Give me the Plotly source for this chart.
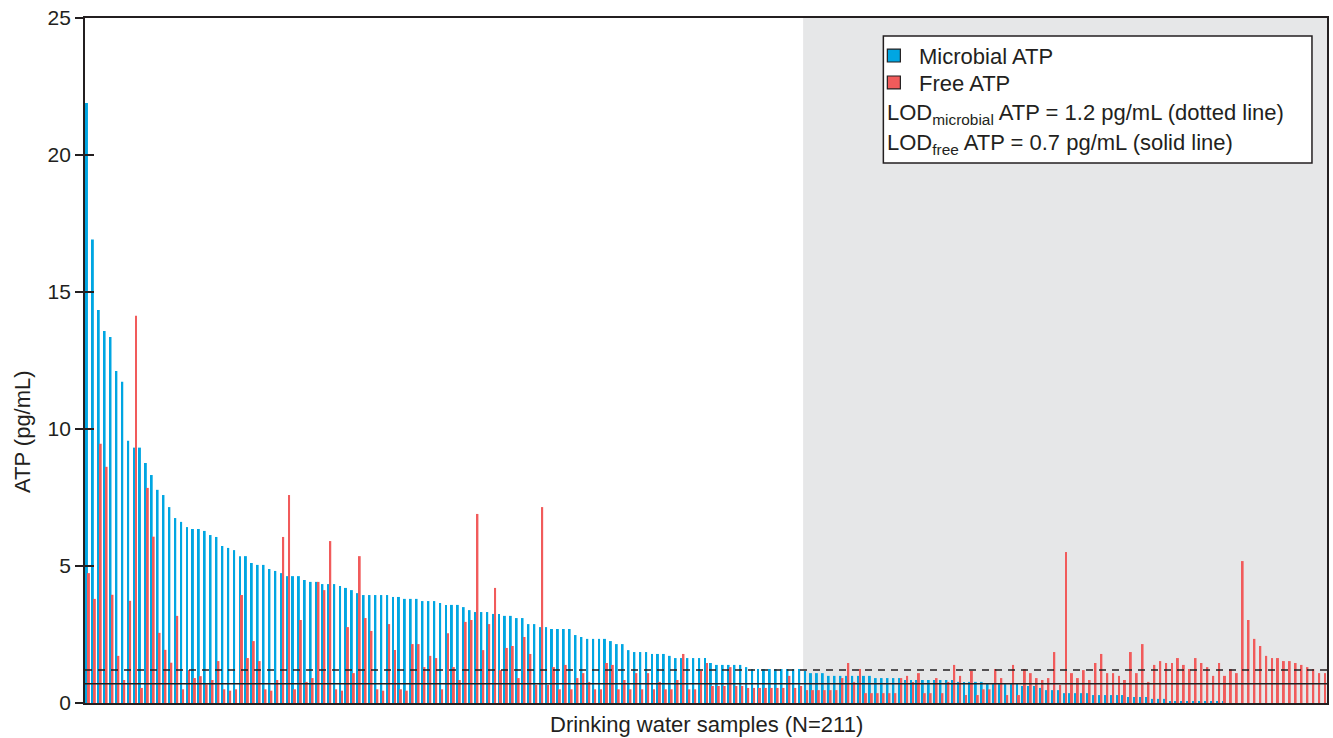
import plotly.graph_objects as go

# ATP per drinking-water sample (pg/mL), samples ordered by microbial ATP
microbial_atp = [
    21.9, 16.92, 14.34, 13.58, 13.36, 12.12, 11.72, 9.57, 9.32, 9.32, 8.76, 8.32, 7.78, 7.59, 7.15, 6.75, 6.61, 6.42, 6.35, 6.35, 6.28,
    6.13, 6.06, 5.73, 5.66, 5.58, 5.36, 5.36, 5.11, 5.04, 5.04, 4.89, 4.82, 4.74, 4.63, 4.63, 4.63, 4.49, 4.42, 4.42, 4.34, 4.34,
    4.34, 4.27, 4.20, 4.12, 4.01, 3.94, 3.94, 3.94, 3.94, 3.94, 3.87, 3.87, 3.80, 3.80, 3.80, 3.72, 3.72, 3.72, 3.65, 3.58, 3.58,
    3.58, 3.50, 3.39, 3.32, 3.32, 3.32, 3.25, 3.25, 3.18, 3.18, 3.10, 3.10, 2.88, 2.88, 2.77, 2.77, 2.70, 2.70, 2.70, 2.70, 2.48,
    2.41, 2.34, 2.34, 2.34, 2.34, 2.26, 2.15, 2.15, 1.93, 1.86, 1.86, 1.86, 1.79, 1.79, 1.79, 1.72, 1.64, 1.64, 1.64, 1.64, 1.64, 1.64,
    1.46, 1.39, 1.39, 1.39, 1.39, 1.39, 1.31, 1.24, 1.24, 1.24, 1.24, 1.24, 1.24, 1.24, 1.24, 1.24, 1.17, 1.09, 1.09, 1.09, 0.99, 0.99,
    0.99, 0.99, 0.99, 0.99, 0.99, 0.99, 0.91, 0.91, 0.91, 0.91, 0.91, 0.84, 0.84, 0.84, 0.84, 0.84, 0.84, 0.84, 0.84, 0.84, 0.77,
    0.77, 0.77, 0.77, 0.77, 0.69, 0.69, 0.69, 0.69, 0.69, 0.69, 0.62, 0.62, 0.62, 0.55, 0.47, 0.47, 0.47, 0.36, 0.36, 0.36, 0.36,
    0.36, 0.29, 0.29, 0.29, 0.29, 0.29, 0.29, 0.22, 0.22, 0.22, 0.22, 0.15, 0.15, 0.15, 0.07, 0.07, 0.07, 0.07, 0.07, 0.07, 0.07,
    0.07, 0.07, 0.07, 0, 0, 0, 0, 0, 0, 0, 0, 0, 0, 0, 0, 0, 0, 0, 0, 0,
]

free_atp = [
    4.74, 3.80, 9.46, 8.62, 3.95, 1.72, 0.84, 3.73, 14.13, 0.55, 7.85, 6.07, 2.56, 1.94, 1.47, 3.18, 0.50, 1.20, 0.91, 0.98, 0.68,
    0.84, 1.53, 0.50, 0.45, 0.50, 3.94, 1.64, 2.26, 1.53, 0.50, 0.45, 0.84, 6.06, 7.59, 0.50, 3.03, 0.77, 0.91, 4.42, 4.12, 5.91,
    0.50, 0.45, 2.77, 1.09, 5.36, 3.10, 2.63, 0.50, 0.45, 2.88, 1.93, 0.50, 0.45, 2.15, 2.15, 1.31, 1.72, 1.64, 0.50, 2.55, 1.31,
    0.84, 2.96, 3.03, 6.90, 1.93, 2.88, 4.20, 1.20, 2.01, 2.08, 0.91, 2.41, 1.79, 0.66, 7.15, 0.66, 1.31, 0.50, 1.39, 0.50, 0.91,
    1.09, 0.77, 0.50, 0.50, 1.46, 1.39, 0.50, 0.84, 0.50, 1.09, 0.50, 1.09, 0.50, 0.77, 0.50, 0.50, 0.84, 1.79, 0.50, 0.50, 1.17, 1.46,
    0.62, 0.62, 0.62, 1.31, 0.62, 0.62, 0.55, 0.55, 0.55, 0.55, 0.55, 0.55, 0.55, 0.99, 0.55, 0.62, 0.47, 0.47, 0.47, 0.47, 0.47, 0.47,
    0.91, 1.46, 0.77, 1.24, 0.36, 0.36, 0.36, 0.36, 0.36, 0.36, 0.91, 0.99, 0.77, 1.09, 0.36, 0.36, 0.91, 0.36, 0.77, 1.39,
    0.99, 0.29, 1.17, 0.29, 0.50, 0.50, 1.24, 0.91, 0.29, 1.39, 0.29, 1.24, 1.09, 0.91, 0.84, 0.91, 1.86, 0.66, 5.51, 1.09, 0.91, 1.20,
    0.84, 1.46, 1.79, 1.09, 1.09, 0.99, 0.84, 1.86, 1.09, 2.15, 0.77, 1.39, 1.53, 1.46, 1.46, 1.64, 1.39, 1.24, 1.64, 1.46, 1.31,
    0.99, 1.46, 0.99, 1.24, 1.09, 5.18, 3.03, 2.34, 2.08, 1.72, 1.64, 1.64, 1.53, 1.53, 1.46, 1.39, 1.31, 1.24, 1.09, 1.09,
]

LOD_MICROBIAL = 1.2   # pg/mL, dashed line
LOD_FREE = 0.7        # pg/mL, solid line
y_ticks = [0, 5, 10, 15, 20, 25]

samples = list(range(1, len(microbial_atp) + 1))
n = len(samples)

BLUE = "#00a6e2"
RED = "#f15b5b"
INK = "#231f20"
FONT = "Liberation Sans, Arial, sans-serif"

fig = go.Figure()
fig.add_trace(go.Bar(x=samples, y=microbial_atp, name="Microbial ATP",
                     marker=dict(color=BLUE, line=dict(width=0)), showlegend=False))
fig.add_trace(go.Bar(x=samples, y=free_atp, name="Free ATP",
                     marker=dict(color=RED, line=dict(width=0)), showlegend=False))
# helper trace that carries the inward-facing tick marks
fig.add_trace(go.Scatter(x=[None], y=[None], yaxis="y2", showlegend=False, hoverinfo="skip"))

# shaded zone: samples whose microbial ATP is below its LOD
first_below = next(i for i, v in enumerate(microbial_atp) if v < LOD_MICROBIAL)
fig.add_shape(type="rect", xref="x", yref="y", x0=samples[first_below] - 0.5, x1=n + 0.5,
              y0=y_ticks[0], y1=y_ticks[-1], fillcolor="#e6e7e8", line=dict(width=0), layer="below")

# limit-of-detection lines
fig.add_shape(type="line", xref="paper", yref="y", x0=0, x1=1, y0=LOD_MICROBIAL, y1=LOD_MICROBIAL,
              line=dict(color=INK, width=1.5, dash="7px,6px"))
fig.add_shape(type="line", xref="paper", yref="y", x0=0, x1=1, y0=LOD_FREE, y1=LOD_FREE,
              line=dict(color=INK, width=1.6))

# legend box
fig.add_shape(type="rect", xref="paper", yref="paper", x0=0.6428, x1=0.9879, y0=0.7883, y1=0.9737,
              fillcolor="white", line=dict(color=INK, width=1.5))
fig.add_shape(type="rect", xref="paper", yref="paper", x0=0.6460, x1=0.6565, y0=0.9358, y1=0.9547,
              fillcolor=BLUE, line=dict(color=INK, width=1.2))
fig.add_shape(type="rect", xref="paper", yref="paper", x0=0.6460, x1=0.6565, y0=0.8964, y1=0.9153,
              fillcolor=RED, line=dict(color=INK, width=1.2))

legend_lines = [
    (0.6702, 0.9445, "Microbial ATP"),
    (0.6702, 0.9051, "Free ATP"),
    (0.6440, 0.8600, f"LOD<sub>microbial</sub> ATP = {LOD_MICROBIAL} pg/mL (dotted line)"),
    (0.6440, 0.8160, f"LOD<sub>free</sub> ATP = {LOD_FREE} pg/mL (solid line)"),
]
for lx, ly, txt in legend_lines:
    fig.add_annotation(x=lx, y=ly, xref="paper", yref="paper", text=txt, showarrow=False,
                       xanchor="left", yanchor="middle", font=dict(family=FONT, size=22, color=INK))

# axis titles
fig.add_annotation(x=0.5, y=-0.031, xref="paper", yref="paper", text="Drinking water samples (N=211)",
                   showarrow=False, xanchor="center", yanchor="middle",
                   font=dict(family=FONT, size=22, color=INK))
fig.add_annotation(x=-0.0507, y=0.3956, xref="paper", yref="paper", text="ATP (pg/mL)", textangle=-90,
                   showarrow=False, xanchor="center", yanchor="middle",
                   font=dict(family=FONT, size=22, color=INK))

fig.update_layout(
    width=1333, height=738,
    margin=dict(l=85, r=4, t=18, b=35),
    paper_bgcolor="white", plot_bgcolor="white",
    barmode="group", bargap=0.33, bargroupgap=0,
    font=dict(family=FONT, size=21, color=INK),
    xaxis=dict(range=[0.5, n + 0.5], showticklabels=False, ticks="", showgrid=False, zeroline=False,
               showline=True, mirror=True, linecolor=INK, linewidth=1.5),
    yaxis=dict(range=[y_ticks[0], y_ticks[-1]], tickvals=y_ticks, ticks="outside", ticklen=8,
               tickwidth=1.5, tickcolor=INK, showgrid=False, zeroline=False,
               showline=True, mirror=True, linecolor=INK, linewidth=1.8,
               tickfont=dict(family=FONT, size=21, color=INK)),
    yaxis2=dict(range=[y_ticks[0], y_ticks[-1]], tickvals=y_ticks, overlaying="y", side="left",
                ticks="inside", ticklen=9, tickwidth=1.5, tickcolor=INK, showticklabels=False,
                showgrid=False, zeroline=False, showline=False),
)

fig.write_html("out.html")
